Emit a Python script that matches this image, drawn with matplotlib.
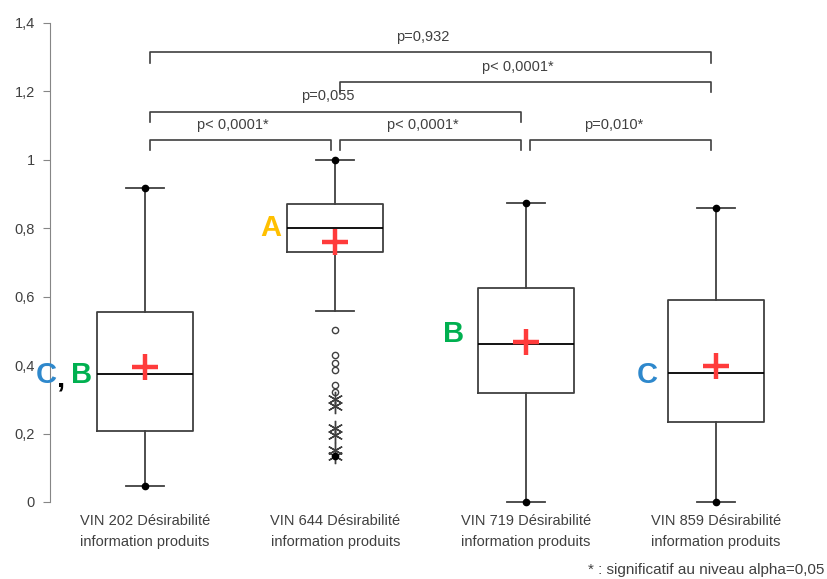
import matplotlib.pyplot as plt

# box statistics
labels = ['VIN 202 Désirabilité\ninformation produits',
          'VIN 644 Désirabilité\ninformation produits',
          'VIN 719 Désirabilité\ninformation produits',
          'VIN 859 Désirabilité\ninformation produits']
q1 = [0.208, 0.731, 0.320, 0.233]
med = [0.374, 0.800, 0.463, 0.378]
q3 = [0.556, 0.871, 0.624, 0.591]
whislo = [0.047, 0.558, 0.0, 0.0]
whishi = [0.917, 1.0, 0.875, 0.859]
means = [0.395, 0.760, 0.468, 0.398]
mins = [0.047, 0.135, 0.0, 0.0]
maxs = [0.917, 1.0, 0.875, 0.859]

# outliers of VIN 644
out_circles = [0.503, 0.430, 0.407, 0.386, 0.342, 0.321]
out_stars = [0.302, 0.282, 0.215, 0.195, 0.152, 0.135]

# significance brackets: (from, to, height, label, label height)
pairs = [(1, 2, 1.058, 'p< 0,0001*', 1.102),
         (2, 3, 1.058, 'p< 0,0001*', 1.102),
         (3, 4, 1.058, 'p=0,010*', 1.102),
         (1, 3, 1.141, 'p=0,055', 1.187),
         (2, 4, 1.227, 'p< 0,0001*', 1.272),
         (1, 4, 1.314, 'p=0,932', 1.360)]

# group letters
letters = [(0.48, 0.37, 'C', '#2E88CC'), (0.555, 0.36, ',', 'black'), (0.665, 0.37, 'B', '#00B050'),
           (1.66, 0.80, 'A', '#FFC000'), (2.62, 0.49, 'B', '#00B050'), (3.64, 0.37, 'C', '#2E88CC')]

plt.rcParams['font.family'] = ['Liberation Sans Narrow', 'Liberation Sans', 'DejaVu Sans']

fig = plt.figure(figsize=(8.27, 5.79), dpi=100)
ax = fig.add_axes([0.0605, 0.133, 0.9202, 0.8273])

pos = [1, 2, 3, 4]
stats = []
for i in range(4):
    stats.append(dict(q1=q1[i], med=med[i], q3=q3[i], whislo=whislo[i], whishi=whishi[i],
                      mean=means[i], fliers=out_circles if i == 1 else []))

arts = ax.bxp(stats, positions=pos, widths=0.505, showmeans=True,
              boxprops=dict(color='#404040', lw=1.3),
              medianprops=dict(color='black', lw=1.3),
              whiskerprops=dict(color='#404040', lw=1.3),
              capprops=dict(color='#404040', lw=1.3),
              capwidths=0.2,
              meanprops=dict(marker='+', markeredgecolor='#FF3B3B', markersize=19, markeredgewidth=3.2),
              flierprops=dict(marker='o', markerfacecolor='none', markeredgecolor='#404040',
                              markersize=4.5, markeredgewidth=1))
for k in arts:
    for a in arts[k]:
        a.set_clip_on(False)

ax.plot([2] * len(out_stars), out_stars, ls='none', marker=(6, 2, 0), color='#404040',
        markersize=11, markeredgewidth=1)
ax.plot(pos, mins, ls='none', marker='o', color='black', markersize=4.5, clip_on=False)
ax.plot(pos, maxs, ls='none', marker='o', color='black', markersize=4.5, clip_on=False)

# brackets
off = 0.024
for a, b, h, txt, th in pairs:
    drop = 0.03
    ax.plot([a + off, a + off, b - off, b - off], [h - drop, h, h, h - drop],
            color='#404040', lw=1.2, clip_on=False)
    ax.text((a + b) / 2 - 0.04, th, txt, ha='center', va='center', fontsize=10.5, color='#404040')

for x, y, t, c in letters:
    ax.text(x, y, t, ha='center', va='center', fontsize=21, fontweight='bold', color=c,
            family=['Liberation Sans', 'DejaVu Sans'])

ax.set_xlim(0.5, 4.5)
ax.set_ylim(0, 1.4)
ax.set_yticks([0, 0.2, 0.4, 0.6, 0.8, 1.0, 1.2, 1.4])
ax.set_yticklabels(['0', '0,2', '0,4', '0,6', '0,8', '1', '1,2', '1,4'])
ax.set_xticks(pos)
ax.set_xticklabels(labels, fontsize=10.5, color='#404040', linespacing=1.6)
ax.tick_params(axis='x', length=0, pad=9)
ax.tick_params(axis='y', length=5, color='#868686', labelcolor='#404040', labelsize=10.5, pad=6)
for s in ['top', 'right', 'bottom']:
    ax.spines[s].set_visible(False)
ax.spines['left'].set_color('#868686')

fig.text(0.997, 0.015, '* : significatif au niveau alpha=0,05', ha='right', va='center',
         fontsize=11, color='#404040')

fig.savefig('out.png', dpi=100)
